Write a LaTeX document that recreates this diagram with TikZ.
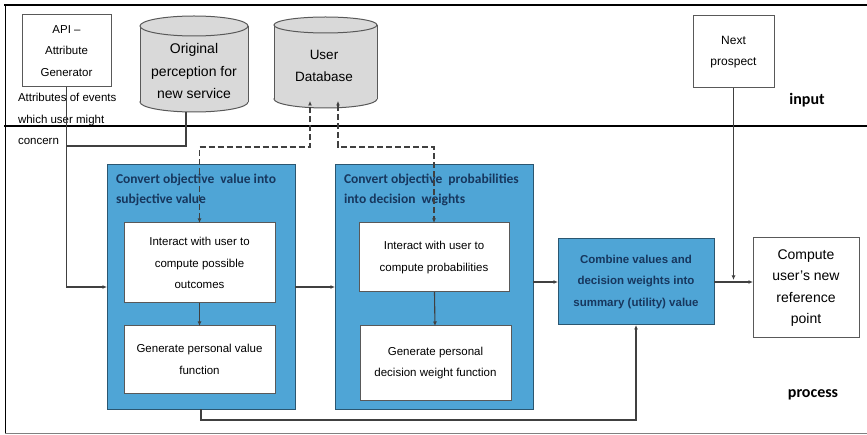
\documentclass[tikz,border=0pt]{standalone}
\usepackage{fontspec}
\setmainfont{Liberation Sans}
\newfontfamily\calib{Carlito}
\usetikzlibrary{arrows.meta}

\definecolor{procblue}{HTML}{4FA5D6}
\definecolor{procedge}{HTML}{2B5670}
\definecolor{titleblue}{HTML}{17375E}
\definecolor{dbgray}{HTML}{D9D9D9}
\definecolor{dbedge}{HTML}{595959}
\definecolor{wire}{HTML}{404040}

\tikzset{
  every node/.style={inner sep=0pt, outer sep=0pt},
  whitebox/.style={draw=dbedge, line width=1pt, fill=white, align=center,
                   font=\fontsize{11.5}{21.5}\selectfont},
  bluebox/.style={draw=procedge, line width=1pt, fill=procblue},
  titletxt/.style={align=left, text=titleblue, font=\calib\bfseries\fontsize{13.5}{20.5}\selectfont},
  plaintxt/.style={align=center, font=\fontsize{11.5}{21.5}\selectfont},
  bigtxt/.style={align=center, font=\fontsize{14}{22}\selectfont},
  lanetxt/.style={font=\calib\bfseries\fontsize{16}{18}\selectfont},
  wireline/.style={draw=wire, line width=1.1pt},
  flow/.style={wireline, -{Latex[length=4.5pt,width=4pt]}},
  dashflow/.style={wireline, dash pattern=on 6pt off 3pt,
                   {Latex[length=4.5pt,width=4pt]}-{Latex[length=4.5pt,width=4pt]}},
  cylfill/.style={fill=dbgray},
  cyledge/.style={draw=dbedge, line width=1pt},
}

\begin{document}
\begin{tikzpicture}[x=1pt, y=-1pt]
\useasboundingbox (0,0) rectangle (867,435);

% lane frame
\draw[line width=2.5pt] (4,5) -- (867,5);
\draw[line width=2.5pt] (4,126) -- (867,126);
\draw[line width=0.8pt] (5,5) -- (5,433);
\draw[line width=1pt, gray] (5,433) -- (867,433);
\node[lanetxt] (lanein) at (807,100) {input};
\node[lanetxt] (laneproc) at (813,395) {process};

% input boxes
\node[whitebox, minimum width=89pt, minimum height=72pt] (api) at (66.5,51)
  {API –\\Attribute\\Generator};
\node[plaintxt, align=left, anchor=west] (attr) at (18,119)
  {Attributes of events\\which user might\\concern};
\node[whitebox, minimum width=81pt, minimum height=72pt, font=\fontsize{12}{21}\selectfont]
  (next) at (733.5,52) {Next\\prospect};

% database: original perception
\filldraw[cylfill, cyledge] (194,102) ellipse [x radius=54, y radius=10];
\fill[dbgray] (140,26) rectangle (248,102);
\draw[cyledge] (140,26) -- (140,102) (248,26) -- (248,102);
\filldraw[cylfill, cyledge] (194,26) ellipse [x radius=54, y radius=10];
\node[bigtxt] (orig) at (194,71) {Original\\perception for\\new service};
\coordinate (origB) at (186,112);

% database: user data
\filldraw[cylfill, cyledge] (325.5,99) ellipse [x radius=51.5, y radius=9];
\fill[dbgray] (274,25) rectangle (377,99);
\draw[cyledge] (274,25) -- (274,99) (377,25) -- (377,99);
\filldraw[cylfill, cyledge] (325.5,25) ellipse [x radius=51.5, y radius=8];
\node[bigtxt, font=\fontsize{13.5}{22}\selectfont] (db) at (324,66) {User\\Database};
\coordinate (dbL) at (310,101);
\coordinate (dbR) at (338,101);

% process stage 1
\node[bluebox, minimum width=188pt, minimum height=244pt] (b1) at (201,287) {};
\node[titletxt, anchor=north west] (t1) at (116,174)
  {Convert objective\ \ value into\\subjective value};
\node[whitebox, minimum width=151pt, minimum height=80pt] (b1a) at (199.5,263)
  {Interact with user to\\compute possible\\outcomes};
\node[whitebox, minimum width=151pt, minimum height=67pt] (b1b) at (199.5,359.5)
  {Generate personal value\\function};

% process stage 2
\node[bluebox, minimum width=198pt, minimum height=244pt] (b2) at (434,287) {};
\node[titletxt, anchor=north west] (t2) at (344,174)
  {Convert objective\ \ probabilities\\into decision\ \ weights};
\node[whitebox, minimum width=150pt, minimum height=69pt] (b2a) at (434,257.5)
  {Interact with user to\\compute probabilities};
\node[whitebox, minimum width=151pt, minimum height=74pt] (b2b) at (435.5,363)
  {Generate personal\\decision weight function};

% combination and result
\node[bluebox, minimum width=156pt, minimum height=86pt, align=center, text=titleblue,
      font=\bfseries\fontsize{11.5}{21.5}\selectfont] (b3) at (636,282)
  {Combine values and\\decision weights into\\summary (utility) value};
\node[whitebox, minimum width=106pt, minimum height=100pt, font=\fontsize{14}{21.5}\selectfont]
  (res) at (806,288) {Compute\\user's new\\reference\\point};

% connectors
\path (api.south) ++(0,59) coordinate (join);
\draw[flow] (api.south) |- (b1.west);
\draw[wireline] (origB) |- (join);
\draw[dashflow] (b1a.north) -- ++(0,-76) -| (dbL);
\draw[dashflow] (dbR) -- ++(0,46) -| (b2a.north);
\draw[flow] (b1a) -- (b1b);
\draw[flow] (b2a) -- (b2b);
\draw[flow] (b1.east) -- (b2.west);
\draw[flow] (b2.east |- b3.west) -- (b3.west);
\draw[flow] (b3.east) -- (b3.east -| res.west);
\draw[flow] (next.south) -- ++(0,192);
\draw[flow] (b1.south) -- ++(0,11) -| (b3.south);
\end{tikzpicture}
\end{document}
